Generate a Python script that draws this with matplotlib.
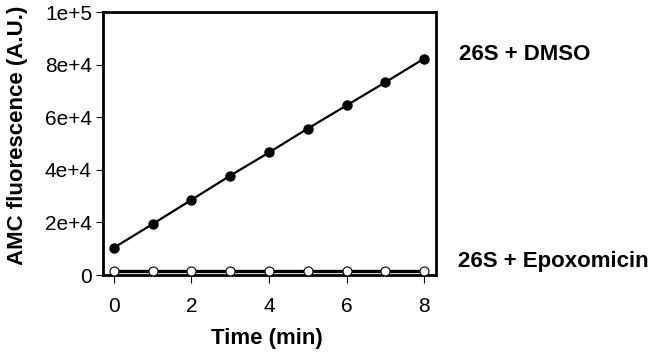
import numpy as np
import matplotlib
matplotlib.use('Agg')
import matplotlib.pyplot as plt

# 数据
time_min = [0, 1, 2, 3, 4, 5, 6, 7, 8]
dmso = [10400, 19400, 28600, 37800, 46600, 55700, 64500, 73300, 82300]
epox = [1500, 1500, 1500, 1500, 1500, 1500, 1500, 1500, 1500]
y_ticks = [0, 20000, 40000, 60000, 80000, 100000]
y_tick_labels = ['0', '2e+4', '4e+4', '6e+4', '8e+4', '1e+5']
x_ticks = [0, 2, 4, 6, 8]

plt.rcParams['font.family'] = ['Liberation Sans', 'DejaVu Sans']

fig = plt.figure(figsize=(6.5, 3.54), dpi=100)
ax = fig.add_axes([0.1585, 0.223, 0.5125, 0.743])

ax.plot(time_min, dmso, color='black', lw=1.6, marker='o', ms=6.5,
        mfc='black', mec='black', zorder=3)
ax.plot(time_min, epox, color='black', lw=2.4, marker='o', ms=6.5,
        mfc='white', mec='black', mew=0.8, zorder=3)

ax.set_xlim(-0.28, 8.31)
ax.set_ylim(0, 100000)
ax.set_xticks(x_ticks)
ax.set_yticks(y_ticks)
ax.set_yticklabels(y_tick_labels)

for s in ax.spines.values():
    s.set_linewidth(2)
ax.tick_params(axis='both', direction='out', width=0.8, labelsize=15)
ax.tick_params(axis='x', length=6, pad=10)
ax.tick_params(axis='y', length=5, pad=3)

ax.set_xlabel('Time (min)', fontsize=16, fontweight='bold', va='center')
ax.xaxis.set_label_coords(0.492, -0.24)
ax.set_ylabel('AMC fluorescence (A.U.)', fontsize=16, fontweight='bold', va='center')
ax.yaxis.set_label_coords(-0.258, 0.53)

fig.text(0.706, 0.845, '26S + DMSO', fontsize=16, fontweight='bold', va='center')
fig.text(0.705, 0.26, '26S + Epoxomicin', fontsize=16, fontweight='bold', va='center')

fig.savefig('out.png', dpi=100)
